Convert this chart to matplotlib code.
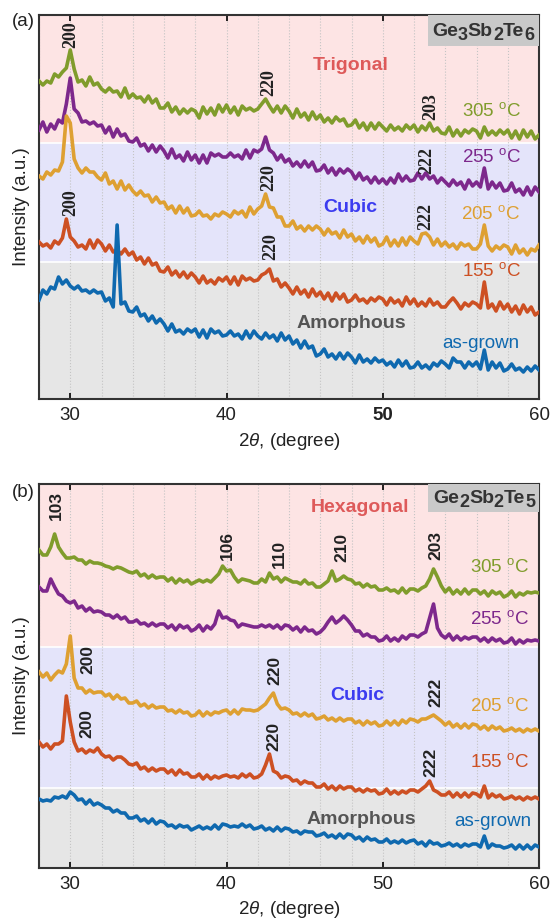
import numpy as np
import matplotlib
matplotlib.use('Agg')
from matplotlib import pyplot as plt
from matplotlib.patches import Rectangle

plt.rcParams['font.family'] = ['Liberation Sans', 'DejaVu Sans']
plt.rcParams['mathtext.fontset'] = 'custom'
plt.rcParams['mathtext.rm'] = 'Liberation Sans'
plt.rcParams['mathtext.it'] = 'Liberation Sans:italic'
plt.rcParams['mathtext.bf'] = 'Liberation Sans:bold'

# 2theta sampling of the scans (degree)
TWO_THETA = np.linspace(28, 60, 129)

# ---- (a) Ge3Sb2Te6, stacked intensities (a.u.) ----
A_305 = [318, 314, 318, 316, 325, 322, 327, 331,
         349, 330, 317, 319, 313, 322, 314, 316,
         310, 307, 311, 307, 308, 302, 311, 301,
         305, 301, 302, 297, 303, 296, 300, 291,
         291, 296, 287, 292, 285, 290, 286, 290,
         288, 281, 292, 285, 291, 284, 294, 287,
         294, 286, 292, 284, 293, 289, 291, 288,
         290, 295, 300, 293, 287, 293, 286, 293,
         288, 281, 290, 282, 286, 279, 287, 280,
         284, 277, 281, 276, 282, 278, 280, 273,
         274, 279, 271, 276, 269, 276, 270, 276,
         272, 268, 274, 269, 272, 268, 274, 270,
         274, 267, 273, 269, 276, 268, 271, 266,
         265, 272, 263, 269, 263, 269, 266, 270,
         268, 261, 272, 264, 268, 264, 269, 265,
         269, 261, 268, 260, 269, 262, 268, 260,
         264]
A_255 = [269, 277, 267, 275, 270, 279, 276, 295,
         321, 290, 286, 277, 278, 275, 277, 273,
         274, 266, 272, 262, 270, 263, 265, 258,
         257, 261, 253, 255, 248, 254, 247, 253,
         248, 241, 250, 241, 244, 238, 247, 239,
         244, 236, 244, 236, 246, 243, 245, 242,
         242, 246, 242, 244, 240, 249, 241, 249,
         247, 250, 262, 249, 246, 239, 244, 237,
         240, 233, 237, 232, 238, 232, 237, 228,
         229, 234, 226, 231, 224, 230, 226, 230,
         227, 220, 226, 219, 222, 216, 222, 216,
         220, 215, 221, 216, 225, 218, 223, 218,
         219, 226, 220, 226, 220, 223, 216, 221,
         217, 213, 219, 214, 217, 210, 219, 213,
         217, 212, 231, 210, 217, 211, 216, 208,
         209, 216, 207, 210, 204, 212, 204, 212,
         207]
A_205 = [223, 220, 227, 224, 229, 228, 237, 283,
         276, 240, 231, 226, 231, 227, 227, 222,
         219, 226, 215, 218, 210, 218, 209, 214,
         208, 204, 208, 203, 204, 197, 202, 196,
         197, 190, 193, 186, 193, 186, 191, 183,
         184, 188, 183, 184, 180, 185, 183, 187,
         185, 182, 188, 185, 188, 182, 192, 185,
         190, 193, 205, 192, 191, 182, 182, 173,
         173, 178, 170, 173, 168, 173, 169, 173,
         170, 164, 170, 165, 167, 161, 169, 162,
         165, 158, 162, 156, 163, 157, 161, 153,
         155, 162, 153, 159, 153, 161, 154, 162,
         158, 155, 165, 166, 162, 154, 160, 153,
         157, 152, 155, 150, 156, 153, 155, 150,
         150, 155, 174, 153, 148, 153, 150, 154,
         152, 145, 154, 146, 150, 144, 150, 148,
         154]
A_155 = [157, 153, 155, 151, 158, 155, 161, 180,
         162, 158, 152, 154, 150, 159, 151, 159,
         155, 148, 154, 147, 149, 145, 150, 144,
         147, 139, 142, 135, 141, 134, 136, 128,
         127, 132, 124, 128, 122, 127, 121, 126,
         122, 116, 123, 116, 119, 115, 121, 118,
         122, 115, 122, 114, 123, 119, 121, 118,
         119, 124, 126, 130, 118, 120, 112, 116,
         111, 105, 112, 105, 109, 102, 110, 103,
         107, 100, 106, 98, 106, 100, 105, 97,
         99, 104, 98, 100, 96, 101, 98, 102,
         100, 94, 101, 96, 99, 93, 102, 95,
         100, 93, 97, 93, 100, 94, 97, 92,
         92, 97, 101, 96, 90, 96, 93, 97,
         95, 91, 117, 91, 95, 88, 97, 90,
         95, 87, 93, 85, 94, 87, 92, 84,
         87]
A_ASGROWN = [99, 109, 105, 112, 110, 122, 115, 119,
             113, 110, 113, 108, 109, 106, 109, 106,
             107, 98, 101, 92, 174, 95, 97, 88,
             87, 92, 83, 85, 78, 83, 76, 80,
             75, 68, 75, 67, 69, 65, 70, 67,
             70, 62, 69, 61, 70, 66, 68, 63,
             64, 68, 63, 65, 60, 68, 61, 68,
             63, 60, 66, 61, 64, 58, 66, 59,
             63, 55, 59, 51, 58, 51, 53, 43,
             45, 50, 42, 45, 40, 46, 40, 46,
             42, 36, 44, 37, 40, 36, 41, 37,
             39, 34, 37, 32, 39, 33, 38, 31,
             32, 37, 31, 34, 30, 36, 33, 38,
             35, 31, 41, 37, 37, 31, 37, 33,
             37, 30, 49, 29, 37, 31, 36, 28,
             30, 35, 29, 31, 27, 32, 28, 33,
             29]

# ---- (b) Ge2Sb2Te5 ----
B_305 = [318, 313, 313, 321, 334, 321, 315, 310,
         310, 311, 308, 308, 304, 307, 305, 305,
         304, 302, 301, 299, 301, 300, 298, 296,
         295, 297, 292, 294, 290, 293, 290, 291,
         291, 287, 290, 285, 289, 286, 288, 284,
         286, 288, 286, 288, 286, 290, 294, 302,
         297, 298, 291, 286, 289, 288, 287, 285,
         285, 289, 286, 295, 289, 291, 286, 290,
         288, 286, 286, 284, 288, 284, 285, 281,
         281, 284, 287, 297, 287, 289, 292, 289,
         288, 284, 285, 281, 284, 281, 282, 278,
         278, 280, 277, 278, 275, 280, 275, 279,
         279, 277, 280, 282, 289, 299, 291, 282,
         276, 280, 274, 278, 274, 279, 274, 278,
         278, 274, 277, 272, 277, 274, 276, 271,
         273, 277, 271, 275, 273, 276, 275, 276,
         275]
B_255 = [281, 277, 277, 289, 281, 274, 272, 267,
         265, 267, 260, 262, 257, 260, 256, 257,
         256, 253, 253, 250, 253, 249, 251, 246,
         246, 248, 244, 245, 242, 245, 242, 244,
         244, 240, 243, 238, 243, 240, 242, 237,
         239, 243, 237, 242, 239, 244, 257, 250,
         251, 248, 247, 241, 244, 243, 242, 241,
         241, 243, 241, 243, 240, 243, 239, 243,
         242, 238, 241, 236, 241, 237, 238, 234,
         236, 240, 246, 251, 245, 248, 252, 248,
         243, 237, 237, 232, 234, 231, 231, 227,
         228, 232, 227, 230, 227, 232, 229, 233,
         233, 231, 234, 236, 250, 264, 240, 233,
         230, 234, 228, 232, 228, 231, 229, 231,
         231, 227, 230, 226, 230, 227, 229, 225,
         226, 230, 224, 228, 225, 228, 227, 228,
         227]
B_205 = [196, 191, 195, 188, 193, 197, 195, 204,
         232, 190, 180, 180, 175, 178, 175, 176,
         176, 172, 174, 169, 173, 169, 170, 165,
         165, 167, 162, 164, 160, 163, 160, 161,
         161, 157, 158, 155, 158, 155, 156, 152,
         153, 157, 152, 156, 153, 156, 155, 157,
         158, 154, 158, 154, 159, 158, 158, 157,
         158, 161, 164, 170, 175, 164, 159, 160,
         158, 154, 155, 152, 155, 152, 154, 149,
         150, 152, 148, 150, 147, 150, 147, 149,
         149, 145, 147, 143, 147, 144, 146, 142,
         143, 147, 143, 147, 143, 148, 145, 149,
         148, 146, 149, 149, 151, 153, 150, 147,
         143, 146, 141, 144, 140, 144, 140, 144,
         143, 139, 142, 138, 142, 139, 141, 137,
         138, 140, 137, 139, 136, 139, 137, 139,
         137]
B_155 = [126, 121, 124, 119, 124, 124, 127, 172,
         146, 126, 117, 119, 115, 118, 116, 120,
         114, 111, 112, 108, 111, 111, 108, 104,
         103, 105, 99, 101, 97, 100, 97, 99,
         99, 95, 98, 93, 98, 94, 95, 91,
         91, 94, 89, 93, 89, 92, 90, 92,
         93, 91, 92, 90, 94, 91, 94, 90,
         91, 94, 103, 114, 97, 95, 90, 92,
         91, 87, 88, 84, 87, 85, 85, 81,
         81, 84, 79, 82, 78, 82, 79, 81,
         81, 77, 79, 76, 79, 77, 78, 74,
         75, 79, 74, 77, 74, 77, 75, 78,
         78, 76, 79, 82, 87, 78, 76, 73,
         73, 76, 71, 75, 71, 75, 71, 75,
         74, 71, 82, 70, 74, 71, 73, 69,
         70, 72, 69, 71, 68, 71, 69, 71,
         69]
B_ASGROWN = [69, 67, 68, 67, 71, 70, 72, 70,
             76, 73, 68, 69, 64, 68, 63, 65,
             63, 60, 60, 56, 58, 55, 55, 50,
             50, 52, 47, 49, 45, 49, 44, 47,
             46, 42, 43, 40, 43, 41, 42, 38,
             40, 42, 39, 41, 39, 43, 39, 44,
             43, 41, 42, 41, 44, 41, 43, 39,
             40, 42, 38, 40, 37, 41, 37, 40,
             39, 36, 37, 34, 37, 36, 36, 32,
             33, 35, 31, 33, 30, 34, 30, 34,
             33, 29, 31, 27, 31, 28, 29, 26,
             26, 29, 25, 27, 25, 28, 25, 27,
             28, 24, 26, 22, 27, 24, 25, 22,
             23, 25, 22, 24, 21, 24, 22, 24,
             24, 21, 32, 20, 24, 22, 22, 20,
             21, 23, 19, 23, 19, 23, 19, 23,
             21]

SAMPLES = ['305 $^{\\rm o}$C', '255 $^{\\rm o}$C', '205 $^{\\rm o}$C', '155 $^{\\rm o}$C', 'as-grown']
COLORS = ['#809c2c', '#7d288c', '#dea032', '#cd5023', '#0f69af']

# phase regions (lower, upper) in stacked intensity units
BANDS_A = [(0, 137), (137, 256), (256, 384)]
BANDS_B = [(0, 80), (80, 221), (221, 384)]
BAND_COLORS = ['#e6e6e6', '#e4e4fa', '#fde4e4']

PHASES_A = [('Amorphous', 47.97, 76), ('Cubic', 47.9, 191), ('Trigonal', 47.97, 334)]
PHASES_B = [('Amorphous', 48.6, 48), ('Cubic', 48.4, 173), ('Hexagonal', 48.54, 360)]
PHASE_COLORS = ['#555555', '#3c3cf0', '#de5a5a']

PEAKS_A = [('200', 30.05, 364), ('220', 42.72, 316), ('203', 53.09, 292),
           ('222', 52.83, 238), ('220', 42.72, 221), ('222', 52.77, 182),
           ('200', 30.05, 196), ('220', 42.85, 152)]
PEAKS_B = [('103', 29.09, 362), ('106', 40.03, 322), ('110', 43.36, 314),
           ('210', 47.39, 321), ('203', 53.41, 322), ('200', 31.14, 209),
           ('220', 43.10, 198), ('222', 53.41, 176), ('200', 31.07, 144),
           ('220', 43.04, 132), ('222', 53.09, 106)]

LABEL_POS_A = [(58.85, 288), (58.85, 242), (58.78, 185), (58.85, 128), (58.72, 56)]
LABEL_POS_B = [(59.36, 301), (59.36, 249), (59.36, 162), (59.36, 106), (59.49, 46)]

XTICKS = [30, 40, 50, 60]
XTICK_LABELS = ['30', '40', '50', '60']

FS = 13.5


def chem_label(ax, parts, x, y):
    prev = ax.text(x, y, parts[0], transform=ax.transAxes, fontsize=14,
                   fontweight='bold', color='#333333', va='baseline', ha='left', zorder=6)
    for k, s in enumerate(parts[1:], start=1):
        sub = (k % 2 == 1)
        prev = ax.annotate(s, xy=(1, 0), xycoords=prev,
                           xytext=(0, -3 if sub else 3), textcoords='offset points',
                           fontsize=13 if sub else 14, fontweight='bold',
                           color='#333333', va='bottom', ha='left', zorder=6)


def draw_panel(ax, curves, bands, phases, peaks, label_pos, peak_font, peak_size,
               chem, chem_xy, box_h, tag, tag_y):
    for (lo, hi), c in zip(bands, BAND_COLORS):
        ax.axhspan(lo, hi, color=c, lw=0, zorder=0.2)
    for lo, hi in bands[1:]:
        ax.axhline(lo, color='white', lw=1.2, zorder=0.3)
    ax.set_axisbelow(True)

    for vals, c in zip(curves, COLORS):
        ax.plot(TWO_THETA, vals, color=c, lw=2.6, solid_joinstyle='round', zorder=3)

    for (txt, x, y), c in zip(phases, PHASE_COLORS):
        ax.text(x, y, txt, color=c, fontsize=14, fontweight='bold',
                ha='center', va='center', zorder=5)
    for txt, x, y in peaks:
        ax.text(x, y, txt, rotation=90, ha='center', va='center', fontsize=peak_size,
                family=peak_font, fontweight='bold', color='#222222', zorder=5)
    for name, (x, y), c in zip(SAMPLES, label_pos, COLORS):
        ax.text(x, y, name, color=c, fontsize=FS, ha='right', va='center', zorder=5)

    ax.add_patch(Rectangle((0.778, 1 - box_h), 0.222, box_h, transform=ax.transAxes,
                           facecolor='#c9c9c9', edgecolor='none', zorder=4))
    chem_label(ax, chem, chem_xy[0], chem_xy[1])

    ax.set_xlim(28, 60)
    ax.set_ylim(0, 384)
    ax.set_yticks([])
    ax.set_xticks(XTICKS)
    ax.set_xticklabels(XTICK_LABELS)
    ax.set_xticks(np.arange(28, 60, 2), minor=True)
    ax.grid(axis='x', which='both', color='#c4c4c4', ls=':', lw=0.8)
    ax.tick_params(axis='x', which='major', direction='in', top=True, length=4,
                   width=1.2, labelsize=FS, pad=6, labelcolor='#222222')
    ax.tick_params(axis='x', which='minor', length=0)
    for s in ax.spines.values():
        s.set_linewidth(1.5)
        s.set_color('#333333')

    ax.text(0.5, -42 / 384, '2$\\theta$, (degree)', transform=ax.transAxes,
            ha='center', va='center', fontsize=FS, color='#222222')
    ax.text(-0.034, 0.5, 'Intensity (a.u.)', transform=ax.transAxes, rotation=90,
            ha='center', va='center', fontsize=FS, color='#222222')
    ax.text(-0.032, tag_y, tag, transform=ax.transAxes, ha='center', va='center',
            fontsize=FS, color='#222222')


fig = plt.figure(figsize=(5.5, 9.24), dpi=100)
ax_a = fig.add_axes([39 / 550, 525 / 924, 500 / 550, 384 / 924])
ax_b = fig.add_axes([39 / 550, 56 / 924, 500 / 550, 384 / 924])

draw_panel(ax_a, [A_305, A_255, A_205, A_155, A_ASGROWN], BANDS_A, PHASES_A, PEAKS_A,
           LABEL_POS_A, ['Liberation Serif', 'DejaVu Serif'], 13,
           ['Ge', '3', 'Sb', '2', 'Te', '6'], (0.786, 0.946), 0.081, '(a)', 0.982)
draw_panel(ax_b, [B_305, B_255, B_205, B_155, B_ASGROWN], BANDS_B, PHASES_B, PEAKS_B,
           LABEL_POS_B, ['Liberation Sans', 'DejaVu Sans'], 12.5,
           ['Ge', '2', 'Sb', '2', 'Te', '5'], (0.788, 0.951), 0.073, '(b)', 0.977)

# the "50" label is set in bold in panel (a)
ax_a.get_xticklabels()[2].set_fontweight('bold')

fig.savefig('out.png', dpi=100)
